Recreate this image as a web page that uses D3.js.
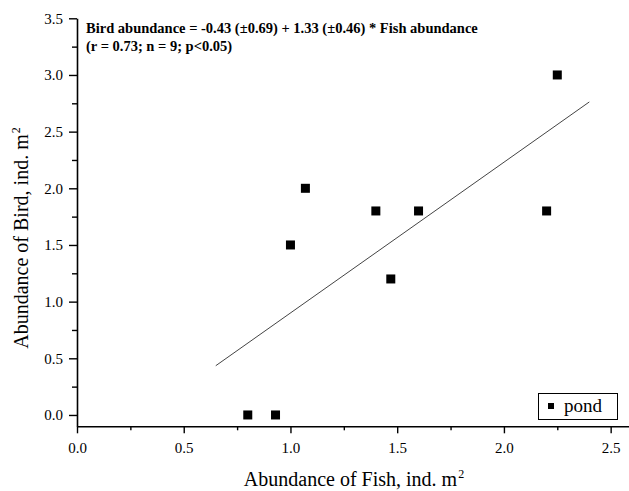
<!DOCTYPE html>
<html>
<head>
<meta charset="utf-8">
<script src="https://cdn.jsdelivr.net/npm/d3@7"></script>
<style>
  body { margin: 0; background: #fff; }
  svg { display: block; }
</style>
</head>
<body>
<svg id="chart" width="629" height="491" style="font-family: 'Times New Roman', 'Liberation Serif', Times, serif;"></svg>
<script>
// ---- data ----
const fishAbundance = [0.80, 0.93, 1.00, 1.07, 1.40, 1.47, 1.60, 2.20, 2.25];
const birdAbundance = [0.0, 0.0, 1.5, 2.0, 1.8, 1.2, 1.8, 1.8, 3.0];
const fitIntercept = -0.43;
const fitSlope = 1.33;
const fitRange = [0.65, 2.4];
const xMajorTicks = [0.0, 0.5, 1.0, 1.5, 2.0, 2.5];
const xMinorTicks = [0.25, 0.75, 1.25, 1.75, 2.25];
const yMajorTicks = [0.0, 0.5, 1.0, 1.5, 2.0, 2.5, 3.0, 3.5];
const yMinorTicks = [0.25, 0.75, 1.25, 1.75, 2.25, 2.75, 3.25];
const annotationLines = [
  "Bird abundance = -0.43 (\u00B10.69) + 1.33 (\u00B10.46) * Fish abundance",
  "(r = 0.73; n = 9; p<0.05)"
];
const legendLabel = "pond";

const FONT = "'Times New Roman', 'Liberation Serif', Times, serif";

// ---- layout ----
const svg = d3.select("#chart");
const x0 = 77, x1 = 632;
const yTop = 18.3, yBot = 426.3;

const x = d3.scaleLinear().domain([0, 2.6]).range([x0, x1]);
const y = d3.scaleLinear().domain([-0.1, 3.5]).range([yBot, yTop]);

// axes
const gx = svg.append("g").attr("transform", `translate(0,${yBot})`);
gx.call(d3.axisBottom(x).tickValues(xMajorTicks).tickSize(7).tickSizeOuter(0).tickPadding(9)
  .tickFormat(d3.format(".1f")));
gx.append("g").call(d3.axisBottom(x).tickValues(xMinorTicks).tickSize(4).tickSizeOuter(0).tickFormat(""))
  .select(".domain").remove();

const gy = svg.append("g").attr("transform", `translate(${x0},0)`);
gy.call(d3.axisLeft(y).tickValues(yMajorTicks).tickSize(8).tickSizeOuter(0).tickPadding(6)
  .tickFormat(d3.format(".1f")));
gy.append("g").call(d3.axisLeft(y).tickValues(yMinorTicks).tickSize(5).tickSizeOuter(0).tickFormat(""))
  .select(".domain").remove();

svg.selectAll("g").attr("font-family", null);
svg.selectAll(".domain").attr("stroke", "#000").attr("stroke-width", 1.6);
svg.selectAll(".tick line").attr("stroke", "#000").attr("stroke-width", 1.4);
svg.selectAll(".tick text")
  .style("font-family", FONT)
  .attr("font-size", 15).attr("fill", "#000");

// regression line
svg.append("line")
  .attr("x1", x(fitRange[0])).attr("y1", y(fitIntercept + fitSlope * fitRange[0]))
  .attr("x2", x(fitRange[1])).attr("y2", y(fitIntercept + fitSlope * fitRange[1]))
  .attr("stroke", "#444").attr("stroke-width", 1);

// points
const pts = fishAbundance.map((f, i) => ({ f, b: birdAbundance[i] }));
const sq = 9;
svg.append("g").selectAll("rect").data(pts).join("rect")
  .attr("x", d => x(d.f) - sq / 2)
  .attr("y", d => y(d.b) - sq / 2)
  .attr("width", sq).attr("height", sq)
  .attr("fill", "#000");

// annotation
svg.append("g").selectAll("text").data(annotationLines).join("text")
  .attr("x", 86)
  .attr("y", (d, i) => 33 + i * 18)
  .style("font-family", FONT)
  .attr("font-size", 14.5)
  .attr("font-weight", "bold")
  .attr("fill", "#000")
  .text(d => d);

// legend
const lg = svg.append("g");
lg.append("rect").attr("x", 538.5).attr("y", 393.5).attr("width", 79).attr("height", 26)
  .attr("fill", "#fff").attr("stroke", "#000").attr("stroke-width", 1);
lg.append("rect").attr("x", 548).attr("y", 403).attr("width", 6).attr("height", 6).attr("fill", "#000");
lg.append("text").attr("x", 564).attr("y", 412).style("font-family", FONT)
  .attr("font-size", 19).attr("fill", "#000").text(legendLabel);

// axis titles
const xt = svg.append("text").attr("x", 354).attr("y", 486).attr("text-anchor", "middle")
  .style("font-family", FONT).attr("font-size", 20).attr("fill", "#000");
xt.append("tspan").text("Abundance of Fish, ind. m");
xt.append("tspan").attr("font-size", 12).attr("dx", 1).attr("dy", -8).text("2");

const yt = svg.append("text").attr("transform", "translate(28,238) rotate(-90)")
  .attr("text-anchor", "middle").style("font-family", FONT).attr("font-size", 20).attr("fill", "#000");
yt.append("tspan").text("Abundance of Bird, ind. m");
yt.append("tspan").attr("font-size", 12).attr("dx", 1).attr("dy", -8).text("2");
</script>
</body>
</html>
